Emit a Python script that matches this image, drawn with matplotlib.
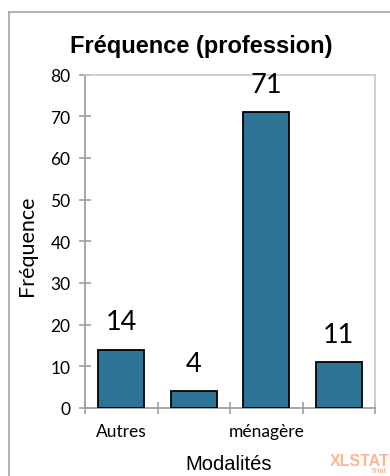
import numpy as np
import matplotlib
matplotlib.use('Agg')
import matplotlib.pyplot as plt
from matplotlib.lines import Line2D

# data
categories = ['Autres', '', 'ménagère', '']
freq = [14, 4, 71, 11]
yticks = [0, 10, 20, 30, 40, 50, 60, 70, 80]

bar_color = '#2c7396'
calibri_like = 'Lato'

fig = plt.figure(figsize=(3.9, 4.77), dpi=100)
W, H = 390., 477.

# outer chart frame (only left and top visible)
fig.add_artist(Line2D([9/W, 9/W], [-0.1, 1 - 13/H], color='#a6a6a6', lw=1.2))
fig.add_artist(Line2D([9/W, 1.1], [1 - 13/H, 1 - 13/H], color='#a6a6a6', lw=1.2))

ax = fig.add_axes([85/W, 1 - 409/H, 290/W, 333.5/H])
x = np.arange(len(freq))
ax.bar(x, freq, width=0.635, color=bar_color, edgecolor='black', linewidth=1.3, zorder=3)

ax.set_xlim(-0.5, 3.5)
ax.set_ylim(0, 80)
ax.set_yticks(yticks)
ax.set_yticklabels([str(v) for v in yticks], fontfamily=calibri_like, fontsize=12.5)

# major x ticks at category boundaries, labels at centers
ax.set_xticks(np.arange(-0.5, 4, 1))
ax.set_xticklabels([])
ax.set_xticks(x, minor=True)
ax.set_xticklabels(categories, minor=True, fontfamily=calibri_like, fontsize=12.5)
ax.tick_params(axis='x', which='minor', length=0, pad=11)
ax.tick_params(axis='x', which='major', direction='inout', length=9, color='#a0a0a0', width=1.2)
ax.tick_params(axis='y', direction='inout', length=9, color='#a0a0a0', width=1.2, pad=6)

for s in ['left', 'bottom']:
    ax.spines[s].set_color('#a0a0a0')
    ax.spines[s].set_linewidth(1.3)
for s in ['top', 'right']:
    ax.spines[s].set_color('#c8c8c8')
    ax.spines[s].set_linewidth(1.2)

for xi, v in zip(x, freq):
    ax.annotate(str(v), (xi, v), xytext=(0, 11), textcoords='offset points',
                ha='center', va='bottom', fontsize=19.5, fontfamily=calibri_like)

fig.text(201/W, 1 - 47/H, 'Fréquence (profession)', ha='center', va='center',
         fontsize=17, fontweight='bold', fontfamily='Liberation Sans')
fig.text(27/W, 1 - 246/H, 'Fréquence', rotation=90, ha='center', va='center',
         fontsize=15.5, fontfamily=calibri_like)
fig.text(229/W, 1 - 465/H, 'Modalités', ha='center', va='center',
         fontsize=14.5, fontfamily='Liberation Sans')

# watermark
fig.text(389/W, 1 - 462/H, 'XLSTAT', ha='right', va='center', fontsize=11.5,
         fontweight='bold', color='#ffb594', fontfamily='Liberation Sans')
fig.text(387/W, 1 - 472/H, 'Trial', ha='right', va='center', fontsize=5.5,
         fontweight='bold', color='#ffb594', fontfamily='Liberation Sans')

fig.savefig('out.png', dpi=100)
